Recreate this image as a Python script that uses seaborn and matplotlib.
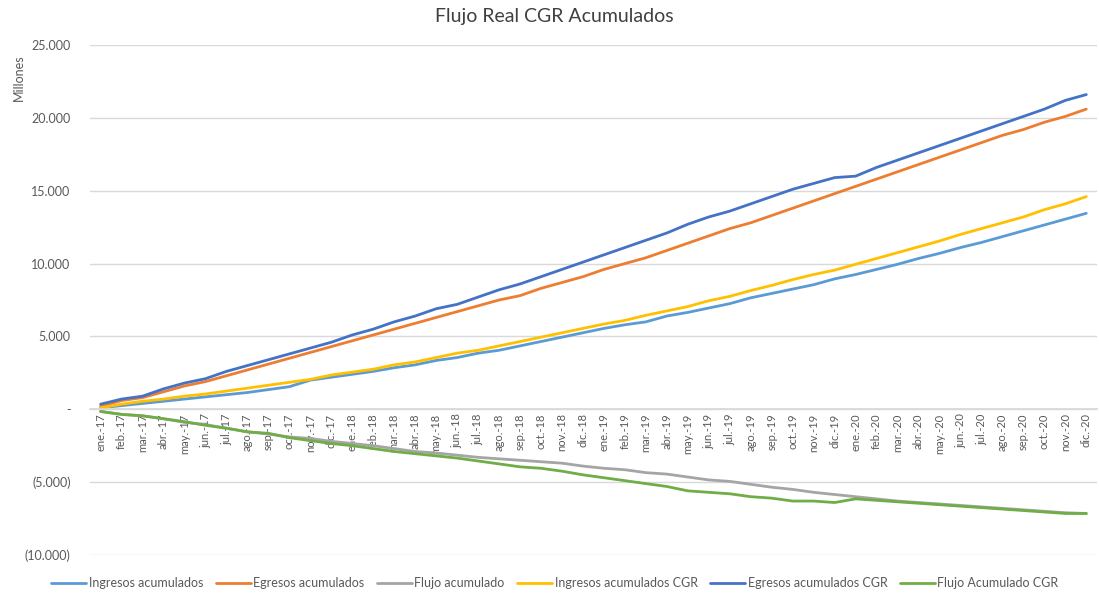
import matplotlib
matplotlib.use("Agg")
import matplotlib.pyplot as plt
import pandas as pd
import seaborn as sns
from matplotlib.ticker import FuncFormatter

sns.set_theme(style="white")
plt.rcParams["font.family"] = ["Lato", "DejaVu Sans"]

months = [
    "ene.-17", "feb.-17", "mar.-17", "abr.-17", "may.-17", "jun.-17",
    "jul.-17", "ago.-17", "sep.-17", "oct.-17", "nov.-17", "dic.-17",
    "ene.-18", "feb.-18", "mar.-18", "abr.-18", "may.-18", "jun.-18",
    "jul.-18", "ago.-18", "sep.-18", "oct.-18", "nov.-18", "dic.-18",
    "ene.-19", "feb.-19", "mar.-19", "abr.-19", "may.-19", "jun.-19",
    "jul.-19", "ago.-19", "sep.-19", "oct.-19", "nov.-19", "dic.-19",
    "ene.-20", "feb.-20", "mar.-20", "abr.-20", "may.-20", "jun.-20",
    "jul.-20", "ago.-20", "sep.-20", "oct.-20", "nov.-20", "dic.-20",
]

ingresos = [
    100, 250, 400, 550, 700, 850, 1000, 1150, 1350, 1550, 2000, 2200,
    2400, 2600, 2850, 3050, 3350, 3550, 3850, 4050, 4350, 4650, 4950, 5250,
    5550, 5800, 6000, 6400, 6650, 6950, 7250, 7650, 7950, 8250, 8550, 8950,
    9250, 9600, 9950, 10350, 10700, 11100, 11450, 11850, 12250, 12650, 13050, 13450,
]
egresos = [
    200, 600, 800, 1200, 1600, 1900, 2300, 2700, 3100, 3500, 3900, 4300,
    4700, 5100, 5500, 5900, 6300, 6700, 7100, 7500, 7800, 8300, 8700, 9100,
    9600, 10000, 10400, 10900, 11400, 11900, 12400, 12800, 13300, 13800, 14300, 14800,
    15300, 15800, 16300, 16800, 17300, 17800, 18300, 18800, 19200, 19700, 20100, 20600,
]
flujo = [
    -150, -350, -450, -650, -900, -1050, -1300, -1550, -1700, -1900, -2000, -2200,
    -2350, -2500, -2700, -2900, -3000, -3150, -3300, -3400, -3500, -3600, -3700, -3900,
    -4050, -4150, -4350, -4450, -4650, -4850, -4950, -5150, -5350, -5500, -5700, -5850,
    -6000, -6150, -6300, -6400, -6500, -6600, -6700, -6800, -6900, -7000, -7100, -7150,
]
ingresos_cgr = [
    100, 350, 550, 700, 900, 1050, 1250, 1450, 1650, 1850, 2050, 2350,
    2550, 2750, 3050, 3250, 3550, 3850, 4050, 4350, 4650, 4950, 5250, 5550,
    5850, 6100, 6450, 6750, 7050, 7450, 7750, 8150, 8500, 8900, 9250, 9550,
    9950, 10350, 10750, 11150, 11550, 12000, 12400, 12800, 13200, 13700, 14100, 14600,
]
egresos_cgr = [
    350, 700, 900, 1400, 1800, 2100, 2600, 3000, 3400, 3800, 4200, 4600,
    5100, 5500, 6000, 6400, 6900, 7200, 7700, 8200, 8600, 9100, 9600, 10100,
    10600, 11100, 11600, 12100, 12700, 13200, 13600, 14100, 14600, 15100, 15500, 15900,
    16000, 16600, 17100, 17600, 18100, 18600, 19100, 19600, 20100, 20600, 21200, 21600,
]
flujo_cgr = [
    -150, -350, -450, -650, -850, -1100, -1300, -1550, -1650, -1950, -2150, -2350,
    -2500, -2700, -2900, -3050, -3200, -3350, -3550, -3750, -3950, -4050, -4250, -4500,
    -4700, -4900, -5100, -5300, -5600, -5700, -5800, -6000, -6100, -6300, -6300, -6400,
    -6150, -6250, -6350, -6450, -6550, -6650, -6750, -6850, -6950, -7050, -7150, -7150,
]

series_names = [
    "Ingresos acumulados", "Egresos acumulados", "Flujo acumulado",
    "Ingresos acumulados CGR", "Egresos acumulados CGR", "Flujo Acumulado CGR",
]
series_values = [ingresos, egresos, flujo, ingresos_cgr, egresos_cgr, flujo_cgr]
colors = ["#5B9BD5", "#ED7D31", "#A5A5A5", "#FFC000", "#4472C4", "#70AD47"]


def format_millones(value, position):
    if value == 0:
        return "-"
    text = f"{abs(value):,.0f}".replace(",", ".")
    return f"({text})" if value < 0 else text


frames = [
    pd.DataFrame({"pos": range(len(months)), "valor": vals, "serie": name})
    for name, vals in zip(series_names, series_values)
]
df = pd.concat(frames, ignore_index=True)

fig = plt.figure(figsize=(10.99, 5.94), dpi=100)
ax = fig.add_axes([0.082, 0.0657, 0.916, 0.8585])

sns.lineplot(data=df, x="pos", y="valor", hue="serie", hue_order=series_names,
             palette=colors, linewidth=2.0, ax=ax)

# spine position first: it resets the tick objects
for side in ["top", "right", "left"]:
    ax.spines[side].set_visible(False)
ax.spines["bottom"].set_position(("data", 0))
ax.spines["bottom"].set_color("#D9D9D9")

ax.set_xlim(-0.5, len(months) - 0.5)
ax.set_ylim(-10000, 25000)
ax.set_yticks(range(-10000, 25001, 5000))
ax.yaxis.set_major_formatter(FuncFormatter(format_millones))
ax.set_xticks(range(len(months)))
ax.set_xticklabels(months, rotation=90, va="top", ha="center")
ax.set_xlabel("")
ax.set_ylabel("")

ax.grid(axis="y", color="#D9D9D9", linewidth=1.0)
ax.set_axisbelow(True)
ax.tick_params(axis="x", length=0, pad=3, labelsize=8, labelcolor="#595959")
ax.tick_params(axis="y", length=0, pad=14, labelsize=9, labelcolor="#595959")

fig.text(0.504, 0.972, "Flujo Real CGR Acumulados", ha="center", va="center",
         fontsize=14, color="#404040")
fig.text(0.017, 0.87, "Millones", rotation=90, ha="center", va="center",
         fontsize=9, color="#595959")

handles, labels = ax.get_legend_handles_labels()
ax.get_legend().remove()
fig.legend(handles, labels, loc="center", bbox_to_anchor=(0.505, 0.018), ncol=6,
           frameon=False, fontsize=9, labelcolor="#595959", handlelength=2.8,
           handletextpad=0.2, columnspacing=1.0)

fig.savefig("out.png", dpi=100)
plt.close(fig)
